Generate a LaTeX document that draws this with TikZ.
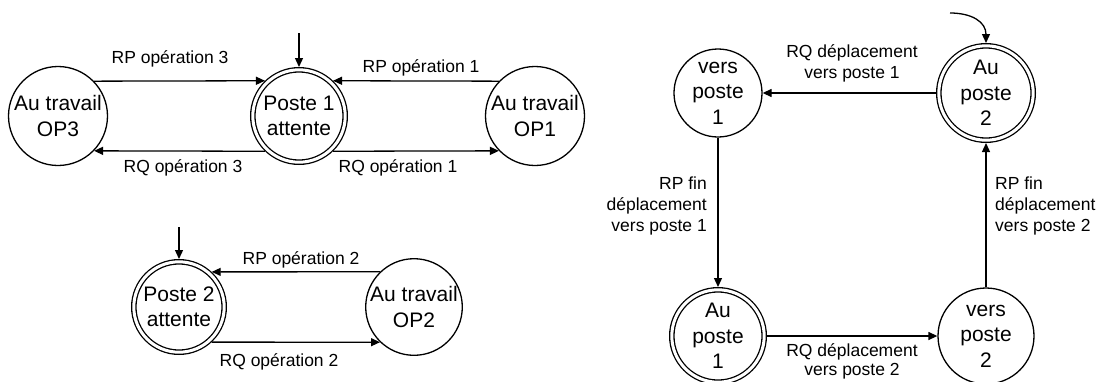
\documentclass[tikz,border=0pt]{standalone}
\usepackage{fontspec}
\setmainfont{Liberation Sans}
\usetikzlibrary{arrows.meta}
\begin{document}
\begin{tikzpicture}[x=1pt,y=-1pt,
  st/.style={circle, draw, line width=1.3pt, inner sep=0pt, align=center,
    font=\fontsize{21}{25.5}\selectfont},
  dbl/.style={double, double distance=3pt, outer sep=2.8pt},
  arr/.style={-{Triangle[length=9pt,width=8pt]}, line width=1.3pt},
  lbl/.style={inner sep=0pt, align=center, font=\fontsize{17.5}{21}\selectfont}]
\useasboundingbox (0,0) rectangle (1100,381);
\clip (0,0) rectangle (1100,381);

% top-left group
\node[st, minimum size=99pt] (OP3) at (58,116) {Au travail\\OP3};
\node[st, dbl, minimum size=92.4pt] (P1) at (299,116) {Poste 1\\attente};
\node[st, minimum size=99pt] (OP1) at (535,116) {Au travail\\OP1};
\coordinate (i1) at (299,33);
\draw[arr] (i1) -- (P1);
\draw[arr] (OP3.44) -- (P1.134);
\draw[arr] (P1.226) -- (OP3.316);
\draw[arr] (OP1.136) -- (P1.46);
\draw[arr] (P1.314) -- (OP1.224);
\node[lbl] (l3a) at (170,59) {RP opération 3};
\node[lbl] (l3b) at (183,168) {RQ opération 3};
\node[lbl] (l1a) at (421,68) {RP opération 1};
\node[lbl] (l1b) at (398,168) {RQ opération 1};

% bottom-left group
\node[st, dbl, minimum size=90.4pt] (P2) at (179,307) {Poste 2\\attente};
\node[st, minimum size=96pt] (OP2) at (414,307) {Au travail\\OP2};
\coordinate (i2) at (179,227);
\draw[arr] (i2) -- (P2);
\draw[arr] (OP2.134) -- (P2.47);
\draw[arr] (P2.313) -- (OP2.226);
\node[lbl] (l2a) at (301,260) {RP opération 2};
\node[lbl] (l2b) at (279,362) {RQ opération 2};

% right group
\node[st, minimum size=88pt] (V1) at (718,93) {vers\\poste\\1};
\node[st, dbl, minimum size=94.4pt] (AP2) at (986,93) {Au\\poste\\2};
\node[st, dbl, minimum size=92.4pt] (AP1) at (718,336) {Au\\poste\\1};
\node[st, minimum size=96pt] (V2) at (986,336) {vers\\poste\\2};
\coordinate (i3) at (950,13);
\draw[arr] (i3) .. controls (972,13) and (986,22) .. (AP2.north);
\draw[arr] (AP2) -- (V1);
\draw[arr] (V1) -- (AP1);
\draw[arr] (AP1) -- (V2);
\draw[arr] (V2) -- (AP2);
\node[lbl] (lm1) at (852,63) {RQ déplacement\\vers poste 1};
\node[lbl, font=\fontsize{17.5}{19}\selectfont] (lm2) at (852,361) {RQ déplacement\\vers poste 2};
\node[lbl, anchor=east, align=right] (lf1) at (707,206) {RP fin\\déplacement\\vers poste 1};
\node[lbl, anchor=west, align=left] (lf2) at (995,206) {RP fin\\déplacement\\vers poste 2};
\end{tikzpicture}
\end{document}
